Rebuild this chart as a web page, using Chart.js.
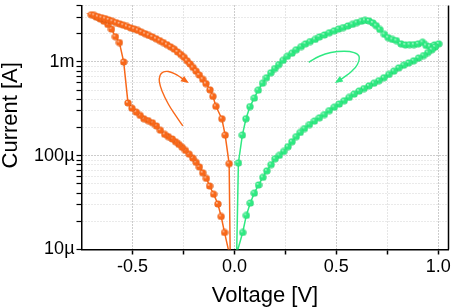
<!DOCTYPE html>
<html>
<head>
<meta charset="utf-8">
<script src="https://cdn.jsdelivr.net/npm/chart.js@4.4.1/dist/chart.umd.min.js"></script>
<style>
  html, body { margin: 0; padding: 0; background: #fff; }
  canvas { display: block; }
</style>
</head>
<body>
<canvas id="chart" width="454" height="308"></canvas>
<script>
// negative sweep (orange): 0 -> -0.7 V along the low branch, then back along the high branch
const orangeV = [-0.025, -0.0486, -0.0649, -0.0811, -0.1021, -0.1216, -0.1378, -0.1556, -0.1719, -0.1881,
  -0.2043, -0.2221, -0.240, -0.2562, -0.2724, -0.2886, -0.3048, -0.3243, -0.3421, -0.3632,
  -0.3826, -0.4021, -0.4232, -0.4442, -0.4621, -0.4815, -0.5026, -0.5220, -0.5431, -0.5642,
  -0.5837, -0.6031, -0.6209, -0.6404, -0.6582, -0.6777, -0.7020, -0.6874, -0.6696, -0.6518,
  -0.6339, -0.6161, -0.5982, -0.5804, -0.5626, -0.5447, -0.5269, -0.5091, -0.4912, -0.4734,
  -0.4556, -0.4377, -0.4199, -0.4021, -0.3842, -0.3664, -0.3486, -0.3307, -0.3129, -0.2951,
  -0.2789, -0.2626, -0.2464, -0.2318, -0.2173, -0.2027, -0.1881, -0.1719, -0.1556, -0.1394,
  -0.120, -0.1054, -0.0908, -0.0616, -0.0454, -0.0259, -0.0207];
const orangeI = [9e-6, 1.52e-5, 2.25e-5, 3.06e-5, 3.89e-5, 4.76e-5, 5.73e-5, 6.58e-5, 7.6e-5, 8.5e-5,
  9.44e-5, 1.04e-4, 1.14e-4, 1.23e-4, 1.32e-4, 1.41e-4, 1.51e-4, 1.60e-4, 1.69e-4, 1.87e-4,
  2.08e-4, 2.25e-4, 2.37e-4, 2.48e-4, 2.69e-4, 2.92e-4, 3.21e-4, 3.66e-4, 1.0e-3, 1.61e-3,
  1.86e-3, 2.24e-3, 2.51e-3, 2.72e-3, 2.87e-3, 3.01e-3, 3.19e-3, 3.14e-3, 3.04e-3, 2.97e-3,
  2.90e-3, 2.81e-3, 2.72e-3, 2.63e-3, 2.55e-3, 2.47e-3, 2.39e-3, 2.31e-3, 2.24e-3, 2.17e-3,
  2.08e-3, 2.00e-3, 1.92e-3, 1.85e-3, 1.77e-3, 1.69e-3, 1.61e-3, 1.53e-3, 1.45e-3, 1.37e-3,
  1.28e-3, 1.20e-3, 1.12e-3, 1.03e-3, 9.53e-4, 8.73e-4, 7.98e-4, 7.25e-4, 6.53e-4, 5.88e-4,
  5.04e-4, 4.30e-4, 3.37e-4, 2.48e-4, 1.66e-4, 8.24e-5, 9e-6];

// positive sweep (green): 0 -> 1.0 V along the high branch, back along the low branch
const greenV = [0.011, 0.0195, 0.0389, 0.0567, 0.0762, 0.0973, 0.1167, 0.1378, 0.1573, 0.1783,
  0.1978, 0.2173, 0.2383, 0.2594, 0.2821, 0.3032, 0.3275, 0.3486, 0.3713, 0.3956,
  0.4167, 0.441, 0.4653, 0.4896, 0.5107, 0.5334, 0.5561, 0.5788, 0.5999, 0.6226,
  0.6404, 0.6599, 0.6793, 0.6955, 0.7134, 0.7361, 0.7539, 0.775, 0.7944, 0.8171,
  0.8382, 0.8593, 0.8804, 0.9014, 0.9225, 0.9403, 0.9598, 0.9809, 1.002, 0.9841,
  0.9679, 0.9484, 0.9274, 0.9030, 0.8787, 0.8544, 0.8301, 0.8058, 0.7815, 0.7571,
  0.7328, 0.7085, 0.6842, 0.6599, 0.6355, 0.6112, 0.5869, 0.5626, 0.5383, 0.5139,
  0.4896, 0.4653, 0.441, 0.4167, 0.3924, 0.368, 0.3437, 0.3226, 0.3032, 0.2821,
  0.2626, 0.2416, 0.2205, 0.1994, 0.180, 0.1589, 0.1394, 0.1184, 0.0973, 0.0778,
  0.0584, 0.0405, 0.011];
const greenI = [9e-6, 8.38e-5, 1.66e-4, 2.48e-4, 3.34e-4, 4.12e-4, 5.0e-4, 5.93e-4, 6.79e-4, 7.67e-4,
  8.51e-4, 9.38e-4, 1.04e-3, 1.15e-3, 1.24e-3, 1.35e-3, 1.46e-3, 1.56e-3, 1.65e-3, 1.74e-3,
  1.85e-3, 1.94e-3, 2.05e-3, 2.15e-3, 2.24e-3, 2.33e-3, 2.42e-3, 2.52e-3, 2.63e-3, 2.72e-3,
  2.78e-3, 2.74e-3, 2.61e-3, 2.44e-3, 2.22e-3, 1.97e-3, 1.82e-3, 1.74e-3, 1.69e-3, 1.56e-3,
  1.52e-3, 1.53e-3, 1.53e-3, 1.56e-3, 1.62e-3, 1.50e-3, 1.46e-3, 1.52e-3, 1.56e-3, 1.44e-3,
  1.35e-3, 1.26e-3, 1.17e-3, 1.10e-3, 1.03e-3, 9.77e-4, 9.23e-4, 8.65e-4, 7.98e-4, 7.36e-4,
  6.79e-4, 6.32e-4, 5.93e-4, 5.56e-4, 5.21e-4, 4.89e-4, 4.54e-4, 4.19e-4, 3.86e-4, 3.56e-4,
  3.29e-4, 3.03e-4, 2.75e-4, 2.54e-4, 2.34e-4, 2.15e-4, 1.95e-4, 1.77e-4, 1.60e-4, 1.41e-4,
  1.25e-4, 1.11e-4, 1.01e-4, 9.29e-5, 8.04e-5, 6.90e-5, 5.88e-5, 4.88e-5, 3.99e-5, 3.13e-5,
  2.31e-5, 1.52e-5, 9e-6];

// sweep direction arrows
const orangeArrowV = [-0.2529, -0.2886, -0.3243, -0.3534, -0.368, -0.3648, -0.3502, -0.3243, -0.2918, -0.2643, -0.2318];
const orangeArrowI = [2.08e-4, 2.69e-4, 3.56e-4, 4.81e-4, 6.12e-4, 7.19e-4, 7.79e-4, 7.92e-4, 7.48e-4, 6.86e-4, 6.12e-4];
const greenArrowV = [0.3648, 0.4167, 0.4734, 0.5383, 0.5869, 0.6112, 0.6031, 0.5756, 0.5383, 0.501];
const greenArrowI = [9.92e-4, 1.15e-3, 1.26e-3, 1.30e-3, 1.26e-3, 1.15e-3, 9.38e-4, 7.98e-4, 6.90e-4, 6.12e-4];

// axis ticks
const xMajor = [-0.5, 0, 0.5, 1.0];
const xMajorLabels = ['-0.5', '0.0', '0.5', '1.0'];
const xMinor = [-0.25, 0.25, 0.75];
const yMajor = [1e-5, 1e-4, 1e-3];
const yMajorLabels = ['10µ', '100µ', '1m'];

const ORANGE = '#f8681a';
const GREEN = '#2fe982';
const FONT = "'Liberation Sans', Arial, sans-serif";

function pts(xs, ys) {
  return xs.map((x, i) => ({ x: x, y: ys[i] }));
}

// little shaded ball used as marker
function sphere(color, dark) {
  const c = document.createElement('canvas');
  c.width = 8; c.height = 8;
  const g = c.getContext('2d');
  const grad = g.createRadialGradient(2.7, 2.7, 0, 4, 4, 4);
  grad.addColorStop(0, '#ffffff');
  grad.addColorStop(0.28, color);
  grad.addColorStop(0.8, color);
  grad.addColorStop(1, dark);
  g.fillStyle = grad;
  g.beginPath();
  g.arc(4, 4, 3.6, 0, Math.PI * 2);
  g.fill();
  return c;
}

// minor y grid: 2..9 of every decade
const yGrid = [];
for (let d = -5; d <= -3; d++) {
  for (let m = 1; m <= 9; m++) {
    const v = m * Math.pow(10, d);
    if (v <= 4.0001e-3) yGrid.push(v);
  }
}
const xGrid = xMajor.concat(xMinor).sort((a, b) => a - b);

function isMajorX(v) { return xMajor.some(m => Math.abs(m - v) < 1e-9); }
function isMajorY(v) { return yMajor.some(m => Math.abs(m - v) / m < 1e-6); }

const arrowHeads = {
  id: 'arrowHeads',
  afterDatasetsDraw(chart) {
    const ctx = chart.ctx;
    chart.data.datasets.forEach((ds, i) => {
      if (!ds.arrow) return;
      const el = chart.getDatasetMeta(i).data;
      const a = el[el.length - 2], b = el[el.length - 1];
      const ang = Math.atan2(b.y - a.y, b.x - a.x);
      ctx.save();
      ctx.translate(b.x, b.y);
      ctx.rotate(ang);
      ctx.beginPath();
      ctx.moveTo(2, 0);
      ctx.lineTo(-6, -3.2);
      ctx.lineTo(-6, 3.2);
      ctx.closePath();
      ctx.fillStyle = ds.borderColor;
      ctx.fill();
      ctx.restore();
    });
  }
};

// right-hand frame line
const frame = {
  id: 'frame',
  afterDraw(chart) {
    const a = chart.chartArea;
    const ctx = chart.ctx;
    ctx.save();
    ctx.strokeStyle = '#000';
    ctx.lineWidth = 1.5;
    ctx.beginPath();
    ctx.moveTo(a.right, a.top);
    ctx.lineTo(a.right, a.bottom);
    ctx.stroke();
    ctx.restore();
  }
};

new Chart(document.getElementById('chart'), {
  type: 'scatter',
  data: {
    datasets: [
      {
        data: pts(orangeV, orangeI),
        showLine: true,
        borderColor: ORANGE,
        borderWidth: 1.5,
        pointStyle: sphere(ORANGE, '#c24a08'),
        pointRadius: 3.6
      },
      {
        data: pts(greenV, greenI),
        showLine: true,
        borderColor: GREEN,
        borderWidth: 1.5,
        pointStyle: sphere(GREEN, '#13b257'),
        pointRadius: 3.6
      },
      {
        data: pts(orangeArrowV, orangeArrowI),
        showLine: true,
        arrow: true,
        borderColor: ORANGE,
        borderWidth: 1.4,
        tension: 0.4,
        pointRadius: 0
      },
      {
        data: pts(greenArrowV, greenArrowI),
        showLine: true,
        arrow: true,
        borderColor: GREEN,
        borderWidth: 1.4,
        tension: 0.4,
        pointRadius: 0
      }
    ]
  },
  options: {
    responsive: false,
    animation: false,
    devicePixelRatio: 1,
    layout: { padding: { top: 1.6, right: 2, left: 0, bottom: 0 } },
    plugins: { legend: { display: false }, tooltip: { enabled: false } },
    scales: {
      x: {
        type: 'linear',
        min: -0.75,
        max: 1.05,
        afterBuildTicks: s => { s.ticks = xGrid.map(v => ({ value: v })); },
        afterFit: s => { s.height = 58.5; s.paddingLeft = 0; s.paddingRight = 0; },
        ticks: {
          autoSkip: false,
          maxRotation: 0,
          padding: 2,
          color: '#000',
          font: { family: FONT, size: 18 },
          callback: v => {
            const k = xMajor.findIndex(m => Math.abs(m - v) < 1e-9);
            return k >= 0 ? xMajorLabels[k] : '';
          }
        },
        grid: {
          color: c => isMajorX(c.tick.value) ? '#999999' : '#cccccc',
          lineWidth: 1,
          tickColor: '#000',
          tickLength: 5,
          tickWidth: 1.5
        },
        border: { display: true, color: '#000', width: 1.5, dash: [1, 2] },
        title: {
          display: true,
          text: 'Voltage [V]',
          color: '#000',
          font: { family: FONT, size: 22 },
          padding: { top: 0, bottom: -1 }
        }
      },
      y: {
        type: 'logarithmic',
        min: 1e-5,
        max: 4e-3,
        afterBuildTicks: s => { s.ticks = yGrid.map(v => ({ value: v })); },
        afterFit: s => { s.width = 81.5; s.paddingTop = 0; s.paddingBottom = 0; },
        ticks: {
          autoSkip: false,
          padding: 2,
          color: '#000',
          font: { family: FONT, size: 18 },
          callback: v => {
            const k = yMajor.findIndex(m => Math.abs(m - v) / m < 1e-6);
            return k >= 0 ? yMajorLabels[k] : '';
          }
        },
        grid: {
          color: c => isMajorY(c.tick.value) ? '#999999' : '#d4d4d4',
          lineWidth: 1,
          tickColor: '#000',
          tickLength: 5,
          tickWidth: 1.2
        },
        border: { display: true, color: '#000', width: 1.5, dash: [1, 2] },
        title: {
          display: true,
          // the label sits a little below the middle of the axis in the original
          text: '\u00a0\u00a0\u00a0\u00a0Current [A]',
          color: '#000',
          font: { family: FONT, size: 22 },
          padding: { top: -2, bottom: 0 }
        }
      }
    }
  },
  plugins: [arrowHeads, frame]
});
</script>
</body>
</html>
